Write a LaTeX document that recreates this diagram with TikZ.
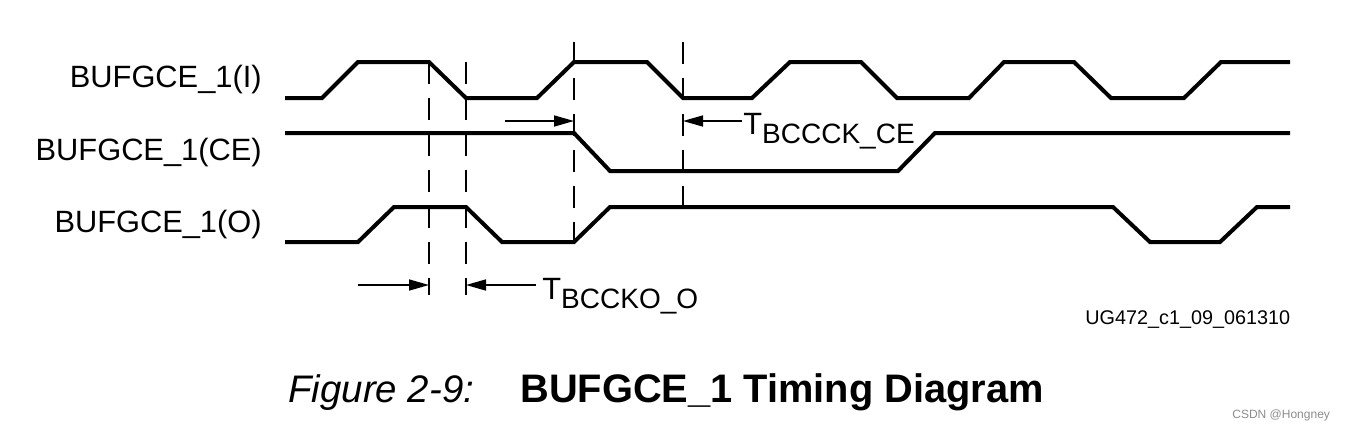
\documentclass[tikz,border=0pt]{standalone}
\usepackage{fontspec}
\setmainfont{Liberation Sans}
\usetikzlibrary{arrows.meta}

\begin{document}
\begin{tikzpicture}[x=0.5pt,y=-0.5pt]
    \tikzstyle{signal}=[draw,line width=2pt,line join=miter]
    \tikzstyle{guide}=[draw,line width=0.9pt,dash pattern=on 11pt off 7pt]
    \tikzstyle{arrow}=[draw,line width=0.8pt,-{Triangle[length=10pt,width=5.5pt]}]
    \tikzstyle{signame}=[inner sep=0pt,anchor=base east,font=\fontsize{15.4}{18}\selectfont]
    \tikzstyle{tname}=[inner sep=0pt,anchor=base west,font=\fontsize{15.4}{18}\selectfont]

    \useasboundingbox (0,0) rectangle (1345,430);

    % signal names
    \node[signame] (nI)  at (262,87)  {BUFGCE\_1(I)};
    \node[signame] (nCE) at (262,160) {BUFGCE\_1(CE)};
    \node[signame] (nO)  at (262,232) {BUFGCE\_1(O)};

    % waveforms
    \draw[signal] (285,98) -- (322,98) -- (358,62) -- (429,62) -- (466,98) -- (537,98)
        -- (574,62) -- (647,62) -- (683,98) -- (752,98) -- (790,62) -- (861,62)
        -- (897,98) -- (969,98) -- (1004,62) -- (1074,62) -- (1111,98) -- (1184,98)
        -- (1221,62) -- (1290,62);
    \draw[signal] (285,133) -- (574,133) -- (610,171) -- (898,171) -- (935,133) -- (1290,133);
    \draw[signal] (285,242) -- (358,242) -- (394,207) -- (466,207) -- (502,242) -- (574,242)
        -- (610,207) -- (1113,207) -- (1150,242) -- (1220,242) -- (1257,207) -- (1290,207);

    % guides
    \draw[guide] (429,62) -- (429,295);
    \draw[guide] (466,62) -- (466,295);
    \draw[guide] (574,42) -- (574,242);
    \draw[guide] (683,42) -- (683,207);

    % timing arrows
    \coordinate (ceA) at (505,121);
    \coordinate (ceB) at (574,121);
    \coordinate (ckA) at (742,121);
    \coordinate (ckB) at (683,121);
    \coordinate (oA) at (358,285);
    \coordinate (oB) at (429,285);
    \coordinate (koA) at (536,285);
    \coordinate (koB) at (466,285);

    \path[arrow] (ceA) -- (ceB);
    \path[arrow] (ckA) -- (ckB);
    \path[arrow] (oA) -- (oB);
    \path[arrow] (koA) -- (koB);

    \node[tname] (tck) at (743,134) {T\raisebox{-4.5pt}{\fontsize{14}{16}\selectfont BCCCK\_CE}};
    \node[tname] (tko) at (542,299) {T\raisebox{-4.5pt}{\fontsize{14}{16}\selectfont BCCKO\_O}};

    % figure id and caption
    \node[inner sep=0pt,anchor=base west,font=\fontsize{9.9}{12}\selectfont] (fid) at (1085,324) {UG472\_c1\_09\_061310};
    \node[inner sep=0pt,anchor=base west,font=\fontsize{19.2}{22}\selectfont\itshape] (capfig) at (288,402) {Figure 2-9:};
    \node[inner sep=0pt,anchor=base west,font=\fontsize{19.9}{22}\selectfont\bfseries] (captitle) at (520,402) {BUFGCE\_1 Timing Diagram};
    \node[inner sep=0pt,anchor=base west,text=black!45,font=\fontsize{6}{7}\selectfont] (wm) at (1232,418) {CSDN @Hongney};
\end{tikzpicture}
\end{document}
